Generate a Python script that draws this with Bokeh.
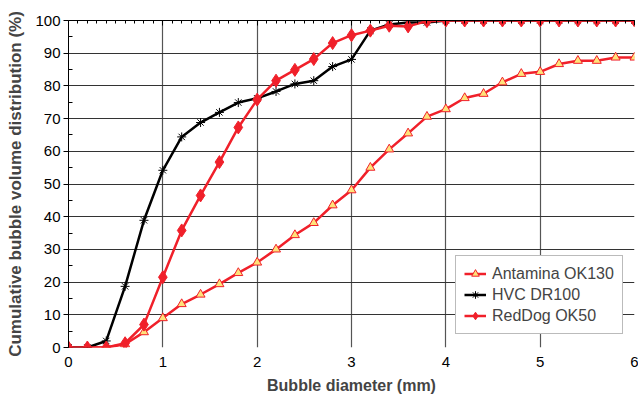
from bokeh.plotting import figure
from bokeh.models import LinearAxis, FixedTicker, Range1d, Legend, LegendItem
from bokeh.embed import file_html
from bokeh.resources import INLINE

diameter = [0.0, 0.2, 0.4, 0.6, 0.8, 1.0, 1.2, 1.4, 1.6, 1.8, 2.0, 2.2, 2.4, 2.6, 2.8, 3.0,
            3.2, 3.4, 3.6, 3.8, 4.0, 4.2, 4.4, 4.6, 4.8, 5.0, 5.2, 5.4, 5.6, 5.8, 6.0]
antamina = [0, 0, 0, 1.0, 4.7, 9.0, 13.3, 16.2, 19.4, 22.8, 26.0, 30.0, 34.4, 38.1, 43.5, 48.1,
            55.0, 60.6, 65.5, 70.6, 72.9, 76.3, 77.6, 81.1, 83.7, 84.3, 86.7, 87.7, 87.7, 88.7, 88.7]
hvc = [0, 0, 2.0, 18.7, 38.9, 54.2, 64.4, 68.8, 71.9, 74.9, 76.2, 78.3, 80.6, 81.6, 85.9, 88.1,
       96.9, 98.8, 99.4, 99.4, 100, 100, 100, 100, 100, 100, 100, 100, 100, 100, 100]
reddog = [0, 0, 0, 1.3, 7.0, 21.5, 35.8, 46.5, 56.7, 67.3, 75.8, 81.6, 84.9, 88.2, 93.1, 95.5,
          96.9, 98.4, 98.2, 99.8, 100, 100, 100, 100, 100, 100, 100, 100, 100, 100, 100]
x_ticks = [0, 1, 2, 3, 4, 5, 6]
y_ticks = [0, 10, 20, 30, 40, 50, 60, 70, 80, 90, 100]

RED = "#F0202A"
FONT = "Liberation Sans"

p = figure(width=638, height=396, output_backend="svg", toolbar_location=None,
           x_range=Range1d(0, 6), y_range=Range1d(0, 100),
           x_axis_location=None, y_axis_location=None,
           min_border_left=68, min_border_right=4, min_border_top=20, min_border_bottom=48)
p.outline_line_color = None
p.background_fill_color = "white"

# axes
xaxis = LinearAxis(ticker=FixedTicker(ticks=x_ticks), axis_label="Bubble diameter (mm)")
xaxis.axis_line_color = None
xaxis.major_tick_line_color = None
xaxis.minor_tick_line_color = None
xaxis.major_label_text_font = FONT
xaxis.major_label_text_font_size = "15px"
xaxis.major_label_text_color = "black"
xaxis.major_label_standoff = 3
xaxis.axis_label_text_font = FONT
xaxis.axis_label_text_font_style = "bold"
xaxis.axis_label_text_font_size = "16px"
xaxis.axis_label_standoff = 7
p.add_layout(xaxis, "below")

yaxis = LinearAxis(ticker=FixedTicker(ticks=y_ticks, minor_ticks=[v + 5 for v in y_ticks[:-1]]),
                   axis_label="Cumulative bubble volume distribution (%)")
yaxis.axis_line_color = "black"
yaxis.major_tick_out = 5
yaxis.major_tick_in = 0
yaxis.minor_tick_out = 0
yaxis.minor_tick_in = 4
yaxis.major_label_text_font = FONT
yaxis.major_label_text_font_size = "15px"
yaxis.major_label_text_color = "black"
yaxis.major_label_standoff = 3
yaxis.axis_label_text_font = FONT
yaxis.axis_label_text_font_style = "bold"
yaxis.axis_label_text_font_size = "17px"
yaxis.axis_label_standoff = 7
p.add_layout(yaxis, "left")

top = LinearAxis(ticker=FixedTicker(ticks=x_ticks,
                                    minor_ticks=[i / 10 for i in range(61) if i % 10]))
top.major_label_text_font_size = "0px"
top.major_label_text_alpha = 0
top.major_label_standoff = 0
top.axis_line_color = "black"
top.major_tick_in = 5
top.major_tick_out = 0
top.minor_tick_in = 3
top.minor_tick_out = 0
p.add_layout(top, "above")

p.xgrid.ticker = FixedTicker(ticks=x_ticks)
p.ygrid.ticker = FixedTicker(ticks=y_ticks)
p.xgrid.grid_line_color = "#555555"
p.ygrid.grid_line_color = "#333333"
p.xgrid.grid_line_width = 1.2
p.ygrid.grid_line_width = 1

# series
l1 = p.line(diameter, antamina, line_color=RED, line_width=2.5)
m1 = p.scatter(diameter, antamina, marker="triangle", size=9, fill_color="#FFE27A",
               line_color=RED, line_width=1)
l2 = p.line(diameter, hvc, line_color="black", line_width=2.5)
m2 = p.scatter(diameter, hvc, marker="asterisk", size=9, line_color="black", line_width=1)
l3 = p.line(diameter, reddog, line_color=RED, line_width=2.5)
m3 = p.scatter(diameter, reddog, marker="diamond", size=13, fill_color=RED, line_color=RED)

legend = Legend(items=[LegendItem(label="Antamina OK130", renderers=[l1, m1]),
                       LegendItem(label="HVC DR100", renderers=[l2, m2]),
                       LegendItem(label="RedDog OK50", renderers=[l3, m3])],
                location=(387, 13))
legend.label_text_font = FONT
legend.label_text_font_size = "16px"
legend.label_height = 19
legend.glyph_height = 19
legend.glyph_width = 22
legend.label_standoff = 6
legend.spacing = 2
legend.padding = 8
legend.margin = 0
legend.border_line_color = "#777777"
legend.border_line_width = 1.5
legend.background_fill_alpha = 1
p.add_layout(legend, "center")

open("out.html", "w").write(file_html(p, INLINE))
